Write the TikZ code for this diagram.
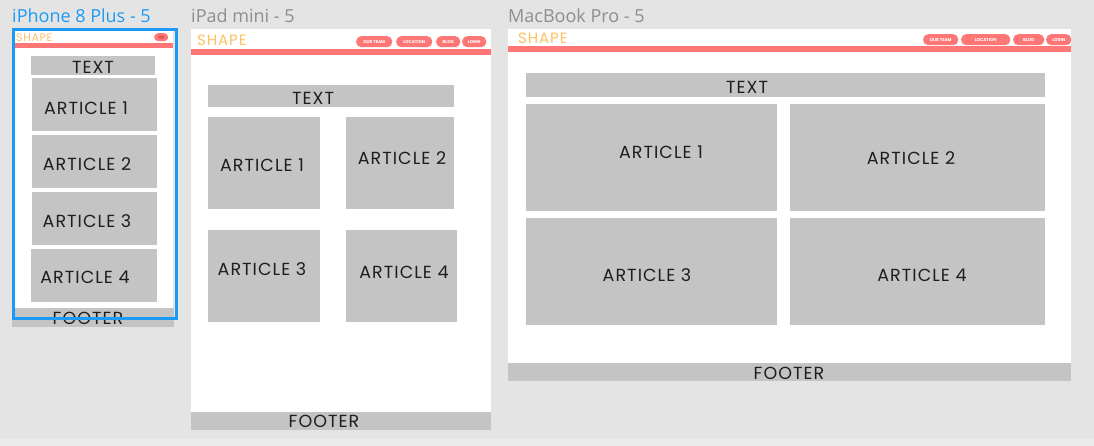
\documentclass[tikz,border=0pt]{standalone}
\usepackage{fontspec}
\setmainfont{Poppins}
\newfontfamily\lblfont{Poppins}[LetterSpace=6]
\newfontfamily\titlefont{Open Sans}
\definecolor{canvas}{HTML}{E4E4E4}
\definecolor{canvaslite}{HTML}{EBEBEB}
\definecolor{block}{HTML}{C4C4C4}
\definecolor{barred}{HTML}{FF7676}
\definecolor{pilldark}{HTML}{E25858}
\definecolor{logo}{HTML}{FFC063}
\definecolor{select}{HTML}{1C9BF6}
\definecolor{titlegray}{HTML}{8E8E8E}
\definecolor{ink}{HTML}{1E1E1E}
\tikzset{
  x=1pt, y=-1pt,
  blk/.style={fill=block, draw=none, inner sep=0pt, anchor=north west},
  page/.style={fill=white, draw=none, inner sep=0pt, anchor=north west},
  bar/.style={fill=barred, draw=none, inner sep=0pt, anchor=north west},
  pill/.style={fill=barred, draw=none, rounded corners=5pt, inner sep=0pt, anchor=north west,
    font=\fontsize{4.2}{5}\selectfont\bfseries, text=white},
  lbl/.style={font=\lblfont\fontsize{17.5}{19}\selectfont, text=ink, inner sep=0pt},
  logotext/.style={font=\lblfont\fontsize{15}{17}\selectfont, text=logo, inner sep=0pt, anchor=west},
  frametitle/.style={font=\titlefont\fontsize{18}{20}\selectfont, inner sep=0pt, anchor=west},
}
% \blk[style]{name}{x}{y}{w}{h}
\newcommand{\blk}[6][blk]{\node[#1, minimum width=#5pt, minimum height=#6pt] (#2) at (#3,#4) {};}
\begin{document}
\begin{tikzpicture}
\useasboundingbox (0,0) rectangle (1094,446);
\fill[canvas] (0,0) rectangle (1094,446);
\fill[canvaslite] (0,439) rectangle (1094,446);

% ---------- iPhone 8 Plus ----------
\node[frametitle, text=select] (ph-title) at (12,15.5) {iPhone 8 Plus - 5};
\blk[page]{ph-page}{13}{29}{160}{280}
\blk{ph-foot}{12}{308}{162}{19}
\node[lbl] (ph-foot-t) at (88,318) {FOOTER};
\node[logotext, font=\lblfont\fontsize{11}{12}\selectfont] (ph-logo) at (16,37.5) {SHAPE};
\node[fill=barred, rounded corners=4pt, inner sep=0pt, minimum width=14pt, minimum height=8pt, anchor=north west] (ph-menu) at (154,33) {};
\node[fill=pilldark, rounded corners=1.5pt, inner sep=0pt, minimum width=7pt, minimum height=3pt] (ph-menu-in) at (ph-menu.center) {};
\blk[bar]{ph-bar}{13}{43}{160}{5}
\blk{ph-text}{31}{56}{124}{19}
\node[lbl] (ph-text-t) at (93,67) {TEXT};
\blk{ph-a1}{32}{78}{125}{53}
\blk{ph-a2}{32}{135}{125}{53}
\blk{ph-a3}{32}{192}{125}{53}
\blk{ph-a4}{31}{249}{126}{53}
\node[lbl] (ph-a1-t) at (86,108) {ARTICLE 1};
\node[lbl] (ph-a2-t) at (87,164) {ARTICLE 2};
\node[lbl] (ph-a3-t) at (87,221) {ARTICLE 3};
\node[lbl] (ph-a4-t) at (85,277) {ARTICLE 4};
\node[draw=select, line width=3pt, inner sep=0pt, minimum width=163pt, minimum height=288pt, anchor=north west] (ph-sel) at (11.5,28.5) {};

% ---------- iPad mini ----------
\node[frametitle, text=titlegray] (pd-title) at (191,15.5) {iPad mini - 5};
\blk[page]{pd-page}{191}{29}{300}{383}
\blk{pd-foot}{191}{412}{300}{18}
\node[lbl] (pd-foot-t) at (324,421) {FOOTER};
\node[logotext] (pd-logo) at (197,40.5) {SHAPE};
\node[pill, minimum width=36pt, minimum height=11pt] (pd-b1) at (356,36) {OUR TEAM};
\node[pill, minimum width=36pt, minimum height=11pt] (pd-b2) at (396,36) {LOCATION};
\node[pill, minimum width=24pt, minimum height=11pt] (pd-b3) at (436,36) {BLOG};
\node[pill, minimum width=24pt, minimum height=11pt] (pd-b4) at (462,36) {LOGIN};
\blk[bar]{pd-bar}{191}{49}{300}{6}
\blk{pd-text}{208}{85}{246}{22}
\node[lbl] (pd-text-t) at (313,98) {TEXT};
\blk{pd-a1}{208}{117}{112}{92}
\blk{pd-a2}{346}{117}{108}{92}
\blk{pd-a3}{208}{230}{112}{92}
\blk{pd-a4}{346}{230}{111}{92}
\node[lbl] (pd-a1-t) at (262,165) {ARTICLE 1};
\node[lbl] (pd-a2-t) at (402,158) {ARTICLE 2};
\node[lbl] (pd-a3-t) at (262,269) {ARTICLE 3};
\node[lbl] (pd-a4-t) at (404,272) {ARTICLE 4};

% ---------- MacBook Pro ----------
\node[frametitle, text=titlegray] (mb-title) at (508,15.5) {MacBook Pro - 5};
\blk[page]{mb-page}{508}{29}{563}{334}
\blk{mb-foot}{508}{363}{563}{18}
\node[lbl] (mb-foot-t) at (789,373) {FOOTER};
\node[logotext] (mb-logo) at (518,38.5) {SHAPE};
\node[pill, minimum width=35pt, minimum height=11pt] (mb-b1) at (923,34) {OUR TEAM};
\node[pill, minimum width=49pt, minimum height=11pt] (mb-b2) at (961,34) {LOCATION};
\node[pill, minimum width=31pt, minimum height=11pt] (mb-b3) at (1013,34) {BLOG};
\node[pill, minimum width=25pt, minimum height=11pt] (mb-b4) at (1046,34) {LOGIN};
\blk[bar]{mb-bar}{508}{46}{563}{6}
\blk{mb-text}{526}{73}{519}{24}
\node[lbl] (mb-text-t) at (747,87) {TEXT};
\blk{mb-a1}{526}{104}{251}{107}
\blk{mb-a2}{790}{104}{255}{107}
\blk{mb-a3}{526}{218}{251}{107}
\blk{mb-a4}{790}{218}{255}{107}
\node[lbl] (mb-a1-t) at (661,152) {ARTICLE 1};
\node[lbl] (mb-a2-t) at (911,158) {ARTICLE 2};
\node[lbl] (mb-a3-t) at (647,275) {ARTICLE 3};
\node[lbl] (mb-a4-t) at (922,275) {ARTICLE 4};
\end{tikzpicture}
\end{document}
